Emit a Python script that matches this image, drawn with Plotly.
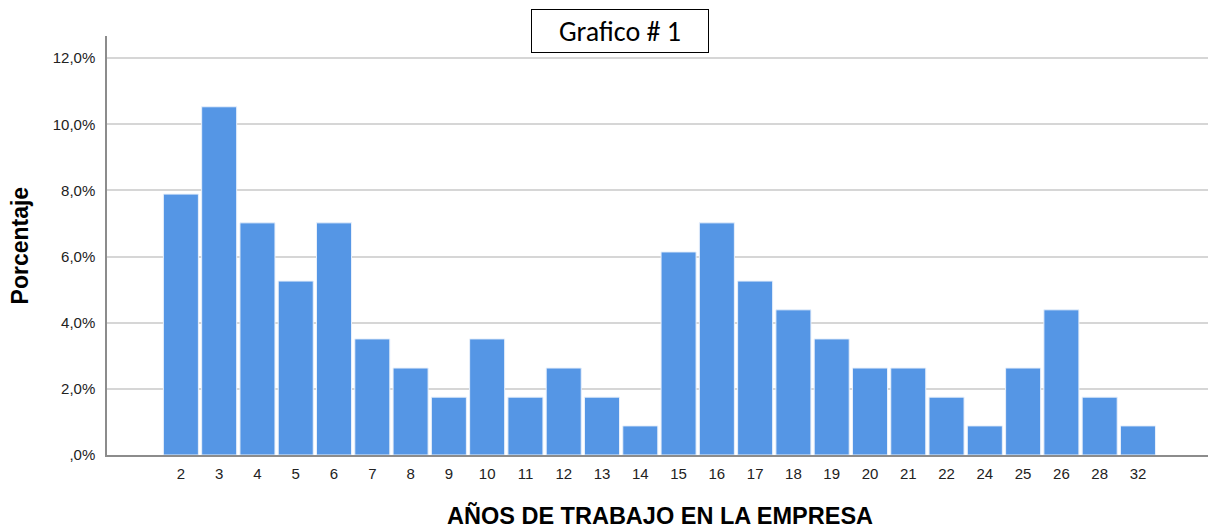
import plotly.graph_objects as go

years = ["2", "3", "4", "5", "6", "7", "8", "9", "10", "11", "12", "13", "14",
         "15", "16", "17", "18", "19", "20", "21", "22", "24", "25", "26", "28", "32"]
percent = [7.89, 10.53, 7.02, 5.26, 7.02, 3.51, 2.63, 1.75, 3.51, 1.75, 2.63, 1.75, 0.88,
           6.14, 7.02, 5.26, 4.39, 3.51, 2.63, 2.63, 1.75, 0.88, 2.63, 4.39, 1.75, 0.88]
y_ticks = [0, 2, 4, 6, 8, 10, 12]
y_tick_text = [",0%", "2,0%", "4,0%", "6,0%", "8,0%", "10,0%", "12,0%"]

fig = go.Figure()
fig.add_trace(go.Bar(
    x=years, y=percent,
    marker=dict(color="#5596e5", line=dict(color="#e8f0fb", width=1)),
    hovertemplate="%{x}: %{y:.1f}%<extra></extra>",
))

# page body has an 8px margin, so the figure is sized to fit inside it
fig.update_layout(
    width=1208, height=522,
    margin=dict(l=99, r=3, t=28, b=75),
    plot_bgcolor="white", paper_bgcolor="white",
    bargap=0.085,
    showlegend=False,
    font=dict(family="Liberation Sans, Arial", color="#222"),
    xaxis=dict(
        type="category", range=[-1.93, 26.96],
        showgrid=False, showline=True, linecolor="#8c8c8c", linewidth=1.5,
        ticks="outside", ticklen=4, tickcolor="rgba(0,0,0,0)",
        tickfont=dict(size=15, color="#222"),
    ),
    yaxis=dict(
        range=[0, 12.67], tickvals=y_ticks, ticktext=y_tick_text,
        showgrid=True, gridcolor="#d6d6d6", gridwidth=1.5,
        showline=True, linecolor="#8c8c8c", linewidth=1.5,
        ticks="outside", ticklen=7, tickcolor="rgba(0,0,0,0)",
        tickfont=dict(size=15, color="#222"), zeroline=False,
    ),
    annotations=[
        dict(text="Grafico # 1", xref="paper", yref="paper", x=0.4638, y=1.0119,
             xanchor="center", yanchor="middle",
             showarrow=False, font=dict(family="Carlito, Calibri, Liberation Sans", size=28, color="black"),
             bordercolor="black", borderwidth=1, bgcolor="white", width=174, height=40),
        dict(text="<b>Porcentaje</b>", xref="paper", yref="paper", x=-0.0787, y=0.5,
             xanchor="center", yanchor="middle",
             textangle=-90, showarrow=False, font=dict(size=23, color="black")),
        dict(text="<b>AÑOS DE TRABAJO EN LA EMPRESA</b>", xref="paper", yref="paper",
             x=0.5, y=-0.1432, xanchor="center", yanchor="middle",
             showarrow=False, font=dict(size=23.5, color="black")),
    ],
)

fig.write_html("out.html")
